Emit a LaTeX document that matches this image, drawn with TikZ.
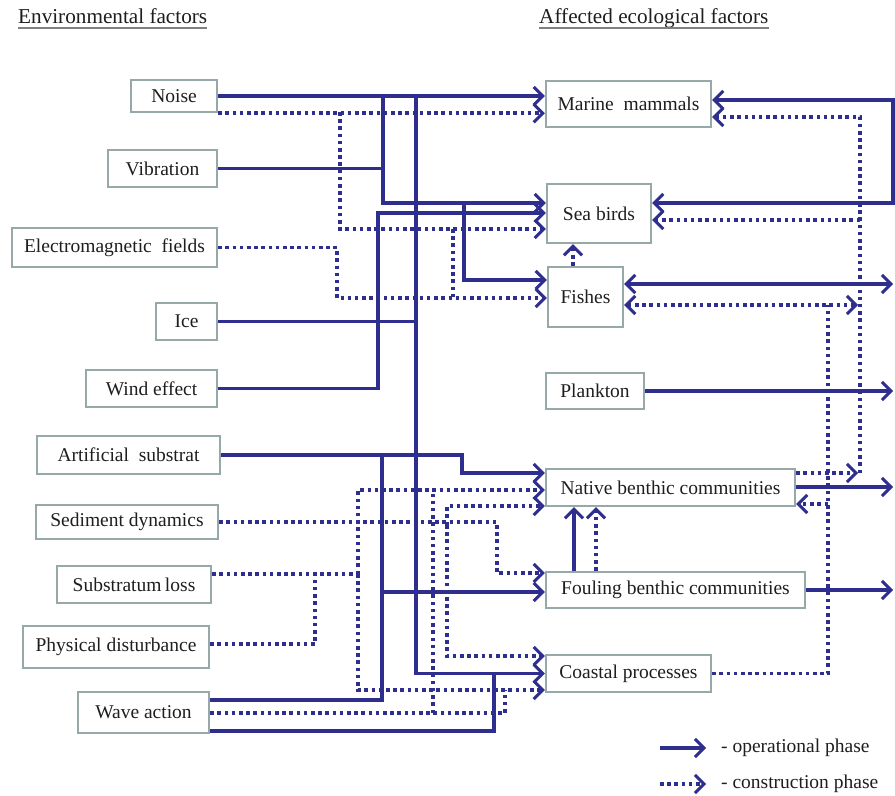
\documentclass[tikz,border=0pt]{standalone}
\usepackage{fontspec}
\setmainfont{Liberation Serif}
\usetikzlibrary{arrows.meta,calc}
\definecolor{lineblue}{RGB}{46,46,142}
\definecolor{boxgray}{RGB}{150,168,168}
\definecolor{txt}{RGB}{30,30,30}
\begin{document}
\begin{tikzpicture}[x=1bp,y=-1bp,
  box/.style={draw=boxgray, line width=2.4bp, fill=white, inner sep=0pt, text=txt,
    font=\fontsize{19.5bp}{22bp}\selectfont},
  op/.style={draw=lineblue, line width=3.3bp},
  con/.style={draw=lineblue, line width=3.5bp, dash pattern=on 3.5bp off 3.7bp},
  tip/.style={-{Straight Barb[length=9bp,width=18bp,line width=3bp]}},
  tips/.style={{Straight Barb[length=9bp,width=18bp,line width=3bp]}-{Straight Barb[length=9bp,width=18bp,line width=3bp]}},
  head/.style={anchor=base west, inner sep=0pt, text=txt, font=\fontsize{21.2bp}{24bp}\selectfont},
  legtext/.style={anchor=west, inner sep=0pt, text=txt, font=\fontsize{19.5bp}{22bp}\selectfont}
]
\useasboundingbox (0,0) rectangle (895,796);
\fill[white] (0,0) rectangle (895,796);

% headers
\node[head] (h1) at (18,24) {Environmental factors};
\node[head] (h2) at (539,24) {Affected ecological factors};
\draw[gray, line width=1.8bp] ([yshift=-4bp]h1.base west) -- ([yshift=-4bp]h1.base east);
\draw[gray, line width=1.8bp] ([yshift=-4bp]h2.base west) -- ([yshift=-4bp]h2.base east);

% left nodes
\node[box, minimum width=86bp,  minimum height=32bp] (noise) at (174,96) {Noise};
\node[box, minimum width=109bp, minimum height=37bp] (vib)   at (162.5,168.5) {Vibration};
\node[box, minimum width=205bp, minimum height=39bp] (em)    at (114.5,247.5) {Electromagnetic\ \ fields};
\node[box, minimum width=61bp,  minimum height=37bp] (ice)   at (186.5,321.5) {Ice};
\node[box, minimum width=131bp, minimum height=37bp] (wind)  at (151.5,388.5) {Wind effect};
\node[box, minimum width=183bp, minimum height=38bp] (as)    at (128.5,455) {Artificial\ \ substrat};
\node[box, minimum width=182bp, minimum height=34bp] (sd)    at (127,522) {Sediment dynamics};
\node[box, minimum width=154bp, minimum height=37bp] (sl)    at (134,584.5) {Substratum\hspace{3.5bp}loss};
\node[box, minimum width=186bp, minimum height=42bp] (pd)    at (116,647) {Physical disturbance};
\node[box, minimum width=131bp, minimum height=41bp] (wa)    at (143.5,712.5) {Wave action};

% right nodes
\node[box, minimum width=165bp, minimum height=46bp] (mm)     at (628.5,104) {Marine\ \ mammals};
\node[box, minimum width=104bp, minimum height=59bp] (sb)     at (599,213.5) {Sea birds};
\node[box, minimum width=75bp,  minimum height=60bp] (fishes) at (585.5,297) {Fishes};
\node[box, minimum width=98bp,  minimum height=36bp] (plank)  at (595,391) {Plankton};
\node[box, minimum width=249bp, minimum height=37bp] (nb)     at (670.5,487.5) {Native benthic communities};
\node[box, minimum width=259bp, minimum height=36bp] (fb)     at (675.5,590) {Fouling benthic communities};
\node[box, minimum width=165bp, minimum height=37bp] (cp)     at (628.5,673.5) {Coastal processes};

% helper rows / columns
\foreach \r in {100,117,203,213,220,229,280,284,298,305,473,487,490,504,506,573,574,591,592,644,656,690,700,713,731}
  {\coordinate (r\r) at (0,\r);}
\coordinate (xR) at (893,0);
\coordinate (x574) at (574,0);
\coordinate (x596) at (596,0);
\coordinate (x573) at (573,0);
\coordinate (x383) at (383,0);
\coordinate (x358) at (358,0);

% ---------- operational (solid) ----------
\draw[op,tip] (noise.east) -- (mm.west |- noise.east);
\draw[op,tip] (noise.east) -| (383,203) -- (sb.west |- r203);
\draw[op] (vib.east) -- (vib.east -| x383);
\draw[op,tip] (464,203) |- (fishes.west |- r280);
\draw[op] (ice.east) -| (416,96);
\draw[op,tip] (416,321.5) |- (cp.west);
\draw[op,tip] (wind.east) -| (378,213) -- (sb.west |- r213);
\draw[op,tip] (as.east) -| (462,473) -- (nb.west |- r473);
\draw[op,tip] (382,455) |- (fb.west |- r592);
\draw[op] (wa.east |- r700) -| (382,592);
\draw[op] (wa.east |- r731) -| (494,673.5);
\draw[op,tip] (fb.north -| x574) -- (nb.south -| x574);
\draw[op,tips] (mm.east |- r100) -| (893,203) -- (sb.east |- r203);
\draw[op,tips] (fishes.east |- r284) -- (xR |- r284);
\draw[op,tip] (plank.east) -- (plank.east -| xR);
\draw[op,tip] (nb.east |- r487) -- (xR |- r487);
\draw[op,tip] (fb.east) -- (fb.east -| xR);

% ---------- construction (dotted) ----------
\draw[con,tip] (noise.south east) -- (mm.west |- noise.south east);
\draw[con,tip] (340,112) |- (sb.west |- r229);
\draw[con,tip] (em.east) -| (337,298) -- (fishes.west |- r298);
\draw[con] (453,229) -- (453,298);
\draw[con,tip] (fishes.north -| x573) -- (sb.south -| x573);
\draw[con,tip] (fb.north -| x596) -- (nb.south -| x596);
\draw[con,tip] (sd.east) -| (497,573) -- (fb.west |- r573);
\draw[con] (sl.east |- r574) -- (358,574);
\draw[con] (pd.east |- r644) -| (315,574);
\draw[con,tip] (358,574) |- (nb.west |- r490);
\draw[con,tip] (358,574) |- (cp.west |- r690);
\draw[con] (wa.east |- r713) -| (505,690);
\draw[con] (433,713) -- (433,490);
\draw[con,tip] (447,525) |- (nb.west |- r506);
\draw[con,tip] (447,525) |- (cp.west |- r656);
\draw[con,tips] (fishes.east |- r305) -- (858,305);
\draw[con,tip] (nb.east |- r473) -- (858,473);
\draw[con,tip] (860,473) |- (mm.east |- r117);
\draw[con,tip] (860,220) -- (sb.east |- r220);
\draw[con] (cp.east) -| (828,305);
\draw[con,tip] (828,504) -- (nb.east |- r504);

% ---------- legend ----------
\coordinate (la1) at (660,748); \coordinate (la2) at (706,748);
\coordinate (lb1) at (660,784); \coordinate (lb2) at (706,784);
\draw[op,tip,line width=3.8bp] (la1) -- (la2);
\draw[con,tip] (lb1) -- (lb2);
\node[legtext] (lt1) at (721,748) {- operational phase};
\node[legtext] (lt2) at (721,784) {- construction phase};
\end{tikzpicture}
\end{document}
